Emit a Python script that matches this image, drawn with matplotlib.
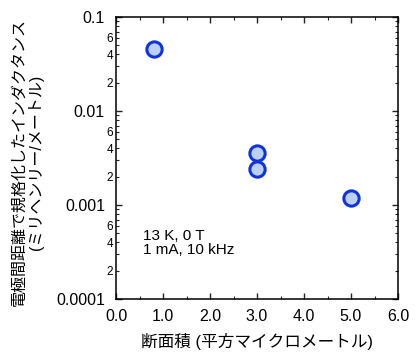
import math
import matplotlib
matplotlib.use('Agg')
import matplotlib.pyplot as plt
from matplotlib.ticker import LogLocator, MultipleLocator, FuncFormatter

plt.rcParams['font.family'] = ['Liberation Sans', 'Noto Sans CJK JP', 'DejaVu Sans']

# data
area = [0.8, 3.0, 3.0, 5.0]
inductance = [0.0457, 0.00357, 0.00241, 0.00119]

xticks = [0.0, 1.0, 2.0, 3.0, 4.0, 5.0, 6.0]
xlabels = ['0.0', '1.0', '2.0', '3.0', '4.0', '5.0', '6.0']
yticks = [0.0001, 0.001, 0.01, 0.1]
ylabels = ['0.0001', '0.001', '0.01', '0.1']

fig = plt.figure(figsize=(4.2, 3.6), dpi=100)
ax = fig.add_axes([116 / 420, 1 - 299 / 360, 282 / 420, 282 / 360])

ax.plot(area, inductance, 'o', ms=11, mfc='#bcd0f5', mec='#1033dc', mew=2.2)

ax.set_xlim(0, 6)
ax.set_yscale('log')
ax.set_ylim(0.0001, 0.1)

ax.set_xticks(xticks)
ax.set_xticklabels(xlabels, fontsize=11.5)
ax.xaxis.set_minor_locator(MultipleLocator(0.5))
ax.set_yticks(yticks)
ax.set_yticklabels(ylabels, fontsize=11.5)
ax.yaxis.set_minor_locator(LogLocator(base=10, subs=range(2, 10)))


def minor_fmt(v, pos):
    m = round(v / 10 ** math.floor(math.log10(v) + 1e-9))
    return str(m) if m in (2, 4, 6) else ''


ax.yaxis.set_minor_formatter(FuncFormatter(minor_fmt))

ax.tick_params(which='both', direction='in', top=True, right=True, color='#222222')
ax.tick_params(which='major', length=4.5, width=1)
ax.tick_params(which='minor', length=2.5, width=0.8)
ax.tick_params(axis='x', which='major', pad=7)
ax.tick_params(axis='y', which='major', pad=8)
ax.tick_params(axis='y', which='minor', labelsize=8.5, pad=2)
for s in ax.spines.values():
    s.set_linewidth(1.1)

ax.text(0.57, 0.00056, '13 K, 0 T\n1 mA, 10 kHz', fontsize=11, va='top', linespacing=1.0)

ax.set_xlabel('断面積 (平方マイクロメートル)', fontsize=12, labelpad=7)
ax.set_ylabel('電極間距離で規格化したインダクタンス\n(ミリヘンリー/メートル)', fontsize=11.5,
              linespacing=1.15)
ax.yaxis.set_label_coords(-0.255, 0.485)

fig.savefig('out.png', dpi=100)
